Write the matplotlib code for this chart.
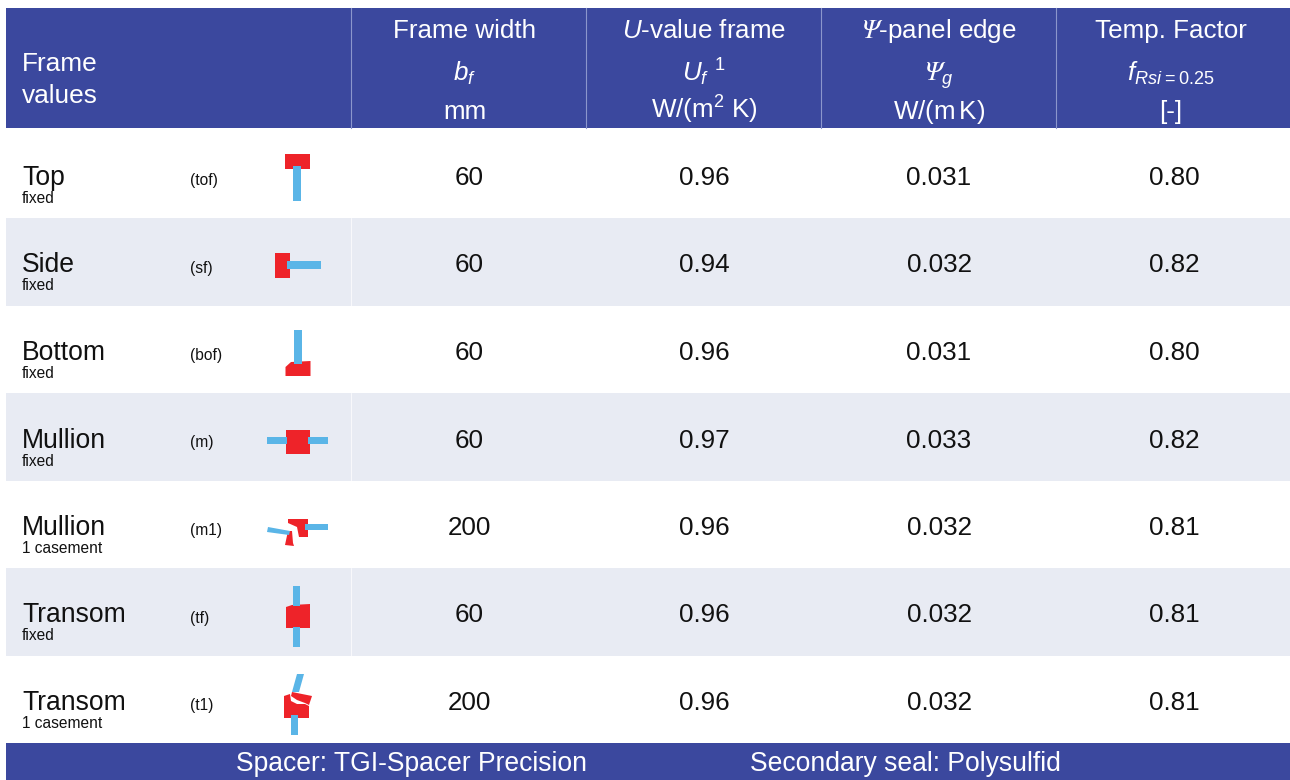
import matplotlib.pyplot as plt
from matplotlib.patches import Polygon, Rectangle

plt.rcParams["font.family"] = ["Liberation Sans", "DejaVu Sans"]
plt.rcParams["mathtext.fontset"] = "custom"
plt.rcParams["mathtext.rm"] = "Liberation Sans"
plt.rcParams["mathtext.it"] = "Liberation Sans:italic"
plt.rcParams["mathtext.bf"] = "STIXGeneral:italic"
plt.rcParams["mathtext.default"] = "regular"

# Table content
names = ["Top", "Side", "Bottom", "Mullion", "Mullion", "Transom", "Transom"]
subs = ["fixed", "fixed", "fixed", "fixed", "1 casement", "fixed", "1 casement"]
codes = ["(tof)", "(sf)", "(bof)", "(m)", "(m1)", "(tf)", "(t1)"]
frame_width = ["60", "60", "60", "60", "200", "60", "200"]
u_frame = ["0.96", "0.94", "0.96", "0.97", "0.96", "0.96", "0.96"]
psi_edge = ["0.031", "0.032", "0.031", "0.033", "0.032", "0.032", "0.032"]
temp_factor = ["0.80", "0.82", "0.80", "0.82", "0.81", "0.81", "0.81"]

head_1 = ["Frame width", "$\\mathit{U}$-value frame", "$\\mathbf{\\Psi}$-panel edge", "Temp. Factor"]
head_2 = ["$\\mathit{b_f}$", "$\\mathit{U_f}$ $^{1}$", "$\\mathbf{\\Psi}_{\\mathit{g}}$", "$\\mathit{f_{Rsi}}_{{=}0.25}$"]
head_3 = ["mm", "W/(m$^{2}$ K)", "W/(m$\\,$K)", "[-]"]
footer = ["Spacer: TGI-Spacer Precision", "Secondary seal: Polysulfid"]

navy = "#3B489E"
band = "#E8EBF3"
red = "#EE2329"
blue = "#5AB5E7"
ink = "#111111"

# Frame sketches in pixel coordinates, red parts then blue parts
sketches = [
    ([[(285, 154), (310, 154), (310, 169), (285, 169)]],
     [[(293, 166), (301, 166), (301, 201), (293, 201)]]),
    ([[(275, 253), (290, 253), (290, 278), (275, 278)]],
     [[(287, 261), (321, 261), (321, 269), (287, 269)]]),
    ([[(285.5, 367), (291, 362), (310.5, 361), (310.5, 376), (285.5, 376)]],
     [[(294, 330), (302, 330), (302, 364), (294, 364)]]),
    ([[(285.5, 430), (309.5, 430), (309.5, 454), (285.5, 454)]],
     [[(267, 437), (287, 437), (287, 444), (267, 444)],
      [(308, 437), (328, 437), (328, 444), (308, 444)]]),
    ([[(288, 519), (308, 519), (308, 537), (299, 537), (297, 527), (288, 523)],
      [(288, 531), (292, 531), (293, 543), (294, 546), (285, 545)]],
     [[(305, 524), (328, 524), (328, 530), (305, 530)],
      [(268, 527), (290, 531), (289, 535), (267, 532)]]),
    ([[(286, 607), (292, 605), (310, 604), (310, 628), (286, 628)]],
     [[(293, 586), (300, 586), (300, 606), (293, 606)],
      [(293, 627), (300, 627), (300, 647), (293, 647)]]),
    ([[(284, 696), (290, 694), (291, 701), (297, 704), (305, 704), (309, 706), (309, 718), (284, 718)],
      [(292, 692), (312, 696), (309, 705), (305, 703), (297, 700), (291, 696)]],
     [[(297, 674), (304, 674), (299, 692), (292, 692)],
      [(291, 715), (298, 715), (298, 735), (291, 735)]]),
]

fig = plt.figure(figsize=(12.9, 7.8), dpi=100)
ax = fig.add_axes([0, 0, 1, 1])
ax.set_xlim(0, 1290)
ax.set_ylim(780, 0)
ax.axis("off")

# Header and footer bars
ax.add_patch(Rectangle((6, 8), 1284, 120, color=navy, lw=0))
ax.add_patch(Rectangle((6, 743), 1284, 37, color=navy, lw=0))

row_h = 87.5
col_x = [469, 704, 939, 1174]
head_x = [465, 704, 939, 1171]
col_lines = [351, 586, 821, 1056]

for x in col_lines:
    ax.plot([x, x], [8, 128], color="#8C96CC", lw=0.8)

ax.text(22, 71, "Frame", color="white", fontsize=18.9, va="baseline")
ax.text(22, 103, "values", color="white", fontsize=18.9, va="baseline")

for i, x in enumerate(head_x):
    ax.text(x, 38, head_1[i], color="white", fontsize=18.7, ha="center", va="baseline")
    ax.text(x, 81, head_2[i], color="white", fontsize=18.7, ha="center", va="baseline")
    ax.text(x, 119, head_3[i], color="white", fontsize=18.7, ha="center", va="baseline")

for i in range(len(names)):
    yc = 176 + i * row_h
    if i % 2 == 1:
        ax.add_patch(Rectangle((6, yc - 45.5), 1284, row_h, color=band, lw=0))
        ax.plot([351, 351], [yc - 45.5, yc + 42], color="white", lw=0.5)
    ax.text(22, yc + 9, names[i], color=ink, fontsize=19.1, va="baseline")
    ax.text(22, yc + 27, subs[i], color=ink, fontsize=11.2, va="baseline")
    ax.text(190, yc + 9, codes[i], color=ink, fontsize=11.2, va="baseline")
    ax.text(col_x[0], yc + 9, frame_width[i], color=ink, fontsize=18.7, ha="center", va="baseline")
    ax.text(col_x[1], yc + 9, u_frame[i], color=ink, fontsize=18.7, ha="center", va="baseline")
    ax.text(col_x[2], yc + 9, psi_edge[i], color=ink, fontsize=18.7, ha="center", va="baseline")
    ax.text(col_x[3], yc + 9, temp_factor[i], color=ink, fontsize=18.7, ha="center", va="baseline")

for reds, blues in sketches:
    for pts in reds:
        ax.add_patch(Polygon(pts, closed=True, color=red, lw=0, zorder=3))
    for pts in blues:
        ax.add_patch(Polygon(pts, closed=True, color=blue, lw=0, zorder=4))

ax.text(236, 771, footer[0], color="white", fontsize=19.1, va="baseline")
ax.text(750, 771, footer[1], color="white", fontsize=19.1, va="baseline")

fig.savefig("out.png", dpi=100)
